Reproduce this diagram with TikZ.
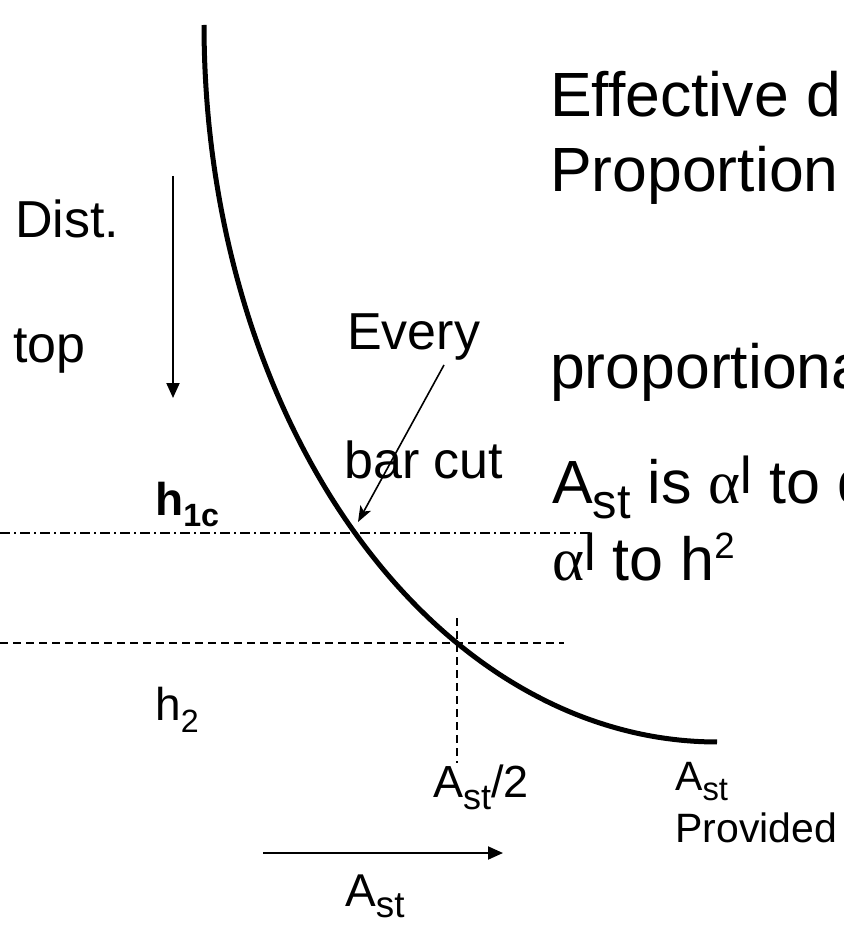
\documentclass[tikz,border=0pt]{standalone}
\usepackage{fontspec}
\setmainfont[Ligatures=NoCommon]{Liberation Sans}
\newfontfamily\grk{Liberation Serif}
\usepackage{graphicx}
\usetikzlibrary{arrows.meta}
\newcommand\fsz[1]{\fontsize{#1}{#1}\selectfont}
\newcommand\sbt[3]{\raisebox{-#2em}{\scalebox{#1}{#3}}}
\newcommand\spt[3]{\raisebox{#2em}{\scalebox{#1}{#3}}}
\begin{document}
\begin{tikzpicture}[x=1pt,y=-1pt,
  lbl/.style={inner sep=0pt, anchor=base west},
  big/.style={lbl, font=\fsz{62.5}},
  mid/.style={lbl, font=\fsz{52}},
  sml/.style={lbl, font=\fsz{46}},
  curveline/.style={line width=5pt},
  arrowline/.style={line width=2pt, -{Triangle[length=15pt,width=13pt]}},
  pointer/.style={line width=1.6pt, -{Stealth[length=16pt,width=12pt,inset=4pt]}},
  dashline/.style={line width=1.3pt, dash pattern=on 8pt off 5pt},
  dashdotline/.style={line width=1.3pt, dash pattern=on 10pt off 4pt on 2pt off 4pt}]
\useasboundingbox (0,0) rectangle (843,925);

% right-hand text
\node[big] (eff) at (550,117) {Effective d};
\node[big] (prop) at (550,192) {Proportion};
\node[big] (propl) at (550,388) {proportiona};
\node[lbl, font=\fsz{61}] (astis) at (552,503) {A\sbt{0.8}{0.26}{st} is {\grk α}\spt{0.85}{0.15}{l} to d};
\node[lbl, font=\fsz{61}] (alph) at (552,580) {{\grk α}\spt{0.85}{0.15}{l} to h\spt{0.6}{0.36}{2}};

% left-hand labels
\node[mid] (dist) at (15,237) {Dist.};
\node[mid] (top) at (13,362) {top};
\node[mid] (every) at (347,349) {Every};
\node[mid] (barcut) at (344,478) {bar cut};
\node[sml] (hlc) at (155,515) {\bfseries h\sbt{0.7}{0.24}{1c}};
\node[sml] (htwo) at (155,720) {h\sbt{0.7}{0.28}{2}};
\node[lbl, font=\fsz{45}] (half) at (433,797) {A\sbt{0.8}{0.27}{st}/2};
\node[lbl, font=\fsz{41}] (aprov) at (675,790) {A\sbt{0.8}{0.25}{st}};
\node[lbl, font=\fsz{41}] (prov) at (675,842) {Provided};
\node[sml] (ast) at (345,906) {A\sbt{0.8}{0.26}{st}};

% coordinates
\coordinate (cut) at (356,533);
\coordinate (tip) at (358,522);
\coordinate (ptail) at (444,365);
\coordinate (dtop) at (173,176);
\coordinate (dbot) at (173,398);
\coordinate (atail) at (263,853);
\coordinate (ahead) at (503,853);
\coordinate (ddl) at (0,533);
\coordinate (ddr) at (593,533);
\coordinate (dl) at (0,643);
\coordinate (dr) at (564,643);
\coordinate (vt) at (457,618);
\coordinate (vb) at (457,763);

% reference lines
\draw[dashdotline] (ddl) -- (ddr);
\draw[dashline] (dl) -- (dr);
\draw[dashline] (vt) -- (vb);

% curve: quarter ellipse from (204,25) to (717,742)
\draw[curveline] plot[domain=180:90, samples=80, smooth] ({717+513*cos(\x)},{25+717*sin(\x)});

% arrows
\draw[arrowline] (dtop) -- (dbot);
\draw[arrowline] (atail) -- (ahead);
\draw[pointer] (ptail) -- (tip);
\end{tikzpicture}
\end{document}
